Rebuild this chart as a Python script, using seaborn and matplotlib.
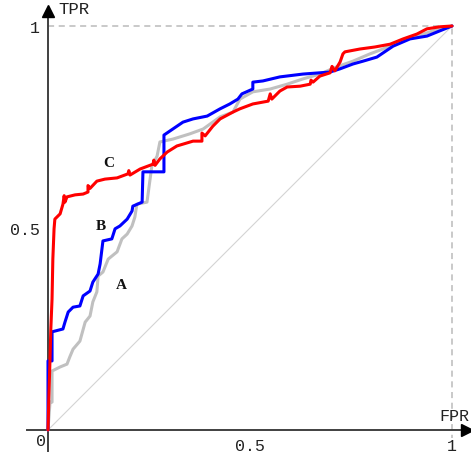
import numpy as np
import pandas as pd
import matplotlib
matplotlib.use("Agg")
from matplotlib import pyplot as plt
import seaborn as sns

# ROC curves (FPR, TPR)
fpr_a = [0, .005, .010, .010, .030, .047, .054, .062, .079, .092, .104, .111,
         .121, .124, .136, .149, .171, .183, .196, .208, .215, .220, .245,
         .257, .270, .277, .309, .351, .384, .426, .458, .475, .507, .550,
         .592, .631, .673, .715, .755, .797, .829, .871, .913, .953, 1.0]
tpr_a = [0, .069, .069, .146, .156, .163, .181, .200, .220, .267, .282, .317,
         .342, .381, .391, .423, .441, .473, .485, .505, .527, .559, .564,
         .653, .678, .713, .720, .733, .745, .775, .787, .819, .837, .844,
         .856, .869, .881, .899, .913, .931, .943, .963, .975, .988, 1.0]

fpr_b = [0, 0, .010, .010, .037, .042, .050, .062, .079, .087, .104, .111,
         .124, .129, .136, .158, .166, .178, .196, .208, .210, .233, .235,
         .287, .287, .309, .334, .359, .394, .426, .450, .470, .480, .507,
         .507, .532, .574, .631, .698, .723, .755, .780, .814, .854, .896,
         .938, .970, 1.0]
tpr_b = [0, .171, .171, .243, .250, .267, .292, .304, .307, .332, .344, .366,
         .386, .411, .468, .473, .498, .505, .522, .542, .554, .564, .639,
         .639, .730, .745, .762, .770, .777, .795, .807, .819, .832, .844,
         .861, .864, .874, .881, .886, .894, .906, .913, .923, .950, .968,
         .975, .988, 1.0]

fpr_c = [0, .002, .005, .007, .010, .012, .015, .017, .030, .037, .040, .042,
         .047, .067, .087, .099, .099, .104, .121, .141, .171, .198, .200,
         .203, .228, .260, .262, .265, .277, .295, .319, .359, .381, .381,
         .389, .408, .426, .458, .475, .507, .545, .550, .554, .574, .592,
         .624, .649, .651, .656, .673, .698, .703, .710, .723, .730, .735,
         .772, .809, .847, .879, .913, .938, .970, 1.0]
tpr_c = [0, .077, .176, .250, .324, .423, .498, .522, .535, .559, .580, .564,
         .577, .582, .584, .589, .605, .598, .616, .621, .624, .634, .642,
         .631, .646, .658, .668, .655, .671, .688, .703, .715, .715, .735,
         .728, .752, .770, .787, .795, .807, .814, .832, .819, .839, .849,
         .851, .856, .866, .861, .876, .884, .900, .889, .911, .931, .936,
         .943, .948, .955, .968, .980, .993, .998, 1.0]

curve_names = ["A", "B", "C"]
curve_colors = ["#c0c0c0", "#0000ff", "#ff0000"]
label_pos = {"A": (0.181, 0.359), "B": (0.131, 0.505), "C": (0.151, 0.663)}

df = pd.concat([
    pd.DataFrame({"fpr": fpr_a, "tpr": tpr_a, "curve": "A"}),
    pd.DataFrame({"fpr": fpr_b, "tpr": tpr_b, "curve": "B"}),
    pd.DataFrame({"fpr": fpr_c, "tpr": tpr_c, "curve": "C"}),
], ignore_index=True)

sns.set_style("white")
plt.rcParams["font.family"] = ["Liberation Mono", "DejaVu Sans Mono"]

axis_col = "#404040"
f = plt.figure(figsize=(4.71, 4.56), dpi=100)
ax = f.add_axes([0, 0, 1, 1])
ax.set_xlim(-0.1188, 1.0470)
ax.set_ylim(-0.0619, 1.0668)

# chance diagonal and dashed frame at 1
ax.plot([0, 1], [0, 1], color="#d4d4d4", lw=0.8, zorder=1)
ax.plot([0, 1, 1], [1, 1, -0.02], color="#bbbbbb", lw=1.1,
        ls=(0, (4, 3)), zorder=1)

sns.lineplot(data=df, x="fpr", y="tpr", hue="curve", hue_order=curve_names,
             palette=curve_colors, sort=False, estimator=None, units="curve",
             legend=False, linewidth=2.2, ax=ax, zorder=3)

for name in curve_names:
    x, y = label_pos[name]
    ax.text(x, y, name, ha="center", va="center", fontsize=11,
            fontweight="bold", family="Liberation Serif", color="#111111",
            zorder=4)

# axes through the origin with arrow heads
for side in ["top", "right"]:
    ax.spines[side].set_visible(False)
ax.spines["left"].set_position(("data", 0))
ax.spines["bottom"].set_position(("data", 0))
ax.spines["left"].set_bounds(-0.052, 1.03)
ax.spines["bottom"].set_bounds(-0.052, 1.03)
for side in ["left", "bottom"]:
    ax.spines[side].set_color(axis_col)
    ax.spines[side].set_linewidth(1.4)
    ax.spines[side].set_zorder(2)
ax.plot(1.037, 0, marker=">", ms=9, color="black", clip_on=False, zorder=5)
ax.plot(0, 1.037, marker="^", ms=9, color="black", clip_on=False, zorder=5)

ax.set_xticks([0.5, 1])
ax.set_xticklabels(["0.5", "1"])
ax.set_yticks([0.5, 1])
ax.set_yticklabels(["0.5", "1"])
ax.tick_params(axis="both", direction="inout", length=6, width=1.1,
               color=axis_col, labelsize=12, labelcolor="#222222", pad=3)
ax.text(-0.017, -0.025, "0", ha="center", va="center", fontsize=12,
        color="#222222")
ax.text(0.025, 1.043, "TPR", ha="left", va="center", fontsize=12.5,
        color="#222222")
ax.text(0.968, 0.035, "FPR", ha="left", va="center", fontsize=12,
        color="#222222")
ax.set_xlabel("")
ax.set_ylabel("")
ax.grid(False)

f.savefig("out.png", dpi=100)
